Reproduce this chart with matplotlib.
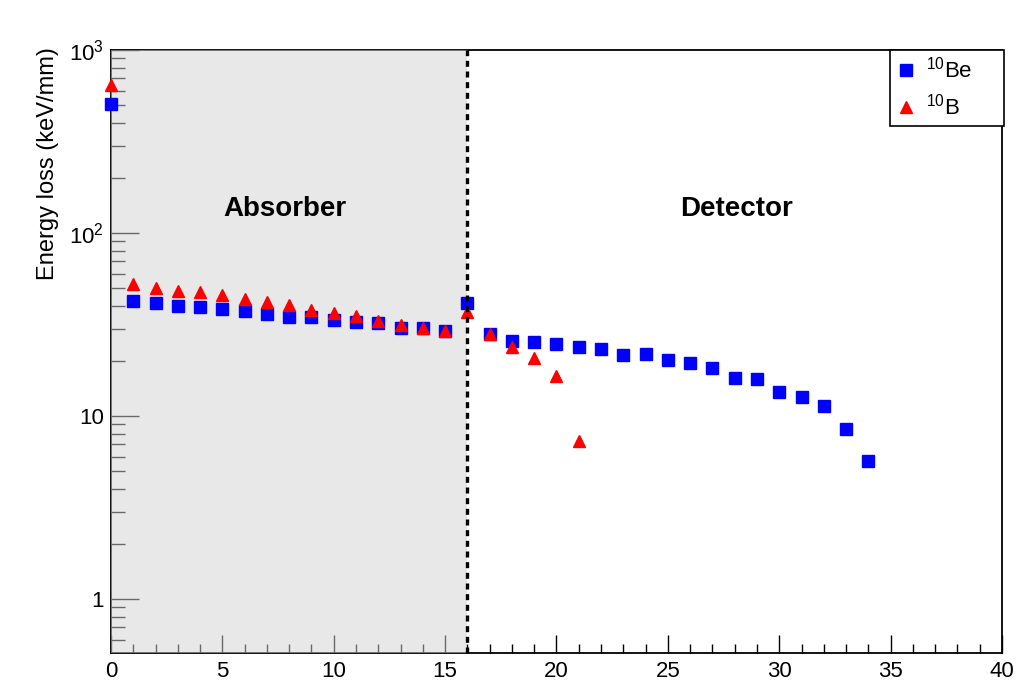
import numpy as np
import matplotlib
matplotlib.use("Agg")
import matplotlib.pyplot as plt
from matplotlib.ticker import FixedLocator, LogLocator, MultipleLocator, NullFormatter

plt.rcParams['font.family'] = ['Liberation Sans', 'DejaVu Sans']
plt.rcParams['mathtext.fontset'] = 'custom'
plt.rcParams['mathtext.rm'] = 'Liberation Sans'

# energy loss per layer (keV/mm)
layer_be = np.arange(0, 35)
eloss_be = [507, 42.5, 41.6, 40.1, 39.3, 38.4, 37.6, 36.2, 34.8, 34.8, 33.5,
            32.8, 32.1, 30.3, 30.3, 29.0, 41.6, 27.9, 25.8, 25.3, 24.7, 23.7,
            23.3, 21.5, 21.9, 20.2, 19.4, 18.3, 16.2, 15.9, 13.5, 12.7, 11.3,
            8.53, 5.70]

layer_b = np.arange(0, 22)
eloss_b = [644, 52.4, 50.2, 48.4, 47.4, 45.7, 43.8, 42.0, 40.3, 38.1, 36.5,
           35.2, 32.9, 31.5, 30.4, 29.3, 36.8, 28.2, 23.9, 20.8, 16.6, 7.30]

absorber_end = 16
yticks = [1, 10, 100, 1000]
ytick_labels = ['1', '10', r'$\mathregular{10^{2}}$', r'$\mathregular{10^{3}}$']

fig = plt.figure(figsize=(10.18, 6.82), dpi=100)
ax = fig.add_axes([0.109, 0.0425, 0.8753, 0.8842])

ax.set_xlim(0, 40)
ax.set_yscale('log')
ax.set_ylim(0.507, 1000)

# absorber region (stippled look: half-transparent grey over frame and ticks)
ax.axvspan(0, absorber_end, color='#d2d2d2', alpha=0.5, lw=0, zorder=3)

ax.plot(layer_be, eloss_be, ls='none', marker='s', ms=9, color='#0000ff',
        mec='#0000ff', zorder=4, clip_on=False, label=r'$\mathregular{^{10}}$Be')
ax.plot(layer_b, eloss_b, ls='none', marker='^', ms=8.5, color='#ff0000',
        mec='#ff0000', zorder=5, clip_on=False, label=r'$\mathregular{^{10}}$B')

ax.axvline(absorber_end, color='black', lw=2.4, ls=(0, (1.8, 1.4)), zorder=6)

ax.text(7.8, 136, 'Absorber', fontsize=20, fontweight='bold', ha='center', va='center', zorder=7)
ax.text(28.1, 136, 'Detector', fontsize=20, fontweight='bold', ha='center', va='center', zorder=7)

ax.xaxis.set_major_locator(MultipleLocator(5))
ax.xaxis.set_minor_locator(MultipleLocator(1))
ax.yaxis.set_major_locator(FixedLocator(yticks))
ax.set_yticklabels(ytick_labels)
ax.yaxis.set_minor_locator(LogLocator(base=10, subs=np.arange(2, 10)))
ax.yaxis.set_minor_formatter(NullFormatter())

ax.tick_params(axis='both', which='both', direction='in', labelsize=16,
               top=False, right=False, color='black', width=1)
ax.tick_params(axis='x', which='major', length=13, pad=6)
ax.tick_params(axis='x', which='minor', length=6.5)
ax.tick_params(axis='y', which='major', length=20, pad=5)
ax.tick_params(axis='y', which='minor', length=10)

for s in ax.spines.values():
    s.set_linewidth(1.3)

ax.set_ylabel('Energy loss (keV/mm)', fontsize=17, loc='top')
ax.yaxis.set_label_coords(-0.058, 1.005)

leg = ax.legend(loc='upper left', bbox_to_anchor=(0.8743, 0.815, 0.1115, 0.1117),
                bbox_transform=fig.transFigure, mode='expand', frameon=True,
                fancybox=False, framealpha=1, edgecolor='black', fontsize=16,
                handlelength=0.8, handletextpad=0.5, borderpad=0.3,
                labelspacing=0.5, borderaxespad=0)
leg.get_frame().set_linewidth(1.2)
leg.set_zorder(10)

fig.savefig('out.png', dpi=100)
